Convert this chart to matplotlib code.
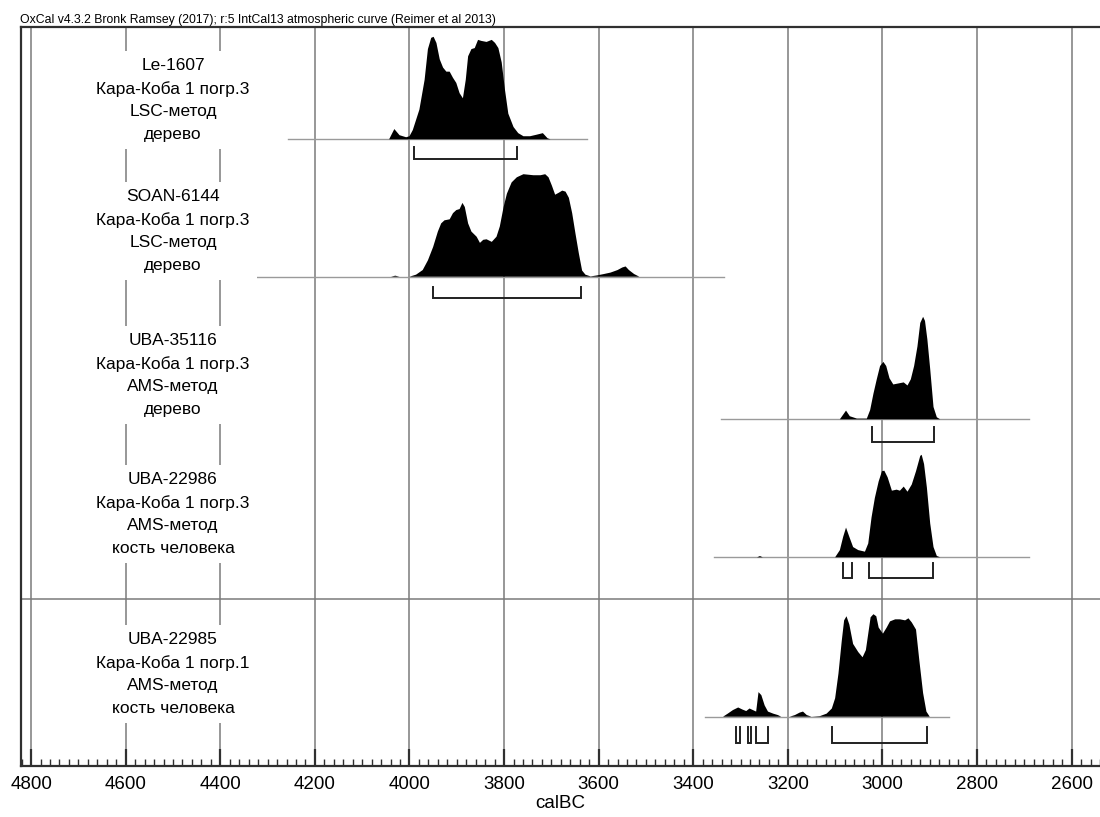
import matplotlib
matplotlib.use("Agg")
import matplotlib.pyplot as plt
import numpy as np

plt.rcParams['font.family'] = ['Liberation Sans', 'DejaVu Sans']

header = "OxCal v4.3.2 Bronk Ramsey (2017); r:5 IntCal13 atmospheric curve (Reimer et al 2013)"
xlabel = "calBC"
tick_years = [4800, 4600, 4400, 4200, 4000, 3800, 3600, 3400, 3200, 3000, 2800, 2600]

labels = [
    "Le-1607\nКара-Коба 1 погр.3\nLSC-метод\nдерево",
    "SOAN-6144\nКара-Коба 1 погр.3\nLSC-метод\nдерево",
    "UBA-35116\nКара-Коба 1 погр.3\nAMS-метод\nдерево",
    "UBA-22986\nКара-Коба 1 погр.3\nAMS-метод\nкость человека",
    "UBA-22985\nКара-Коба 1 погр.1\nAMS-метод\nкость человека",
]

# probability distributions (calBC years, relative density)
yrs1 = [4043, 4032, 4021, 4007, 4000, 3993, 3979, 3968, 3961, 3954, 3949, 3943, 3936, 3929, 3922,
        3915, 3908, 3901, 3894, 3887, 3881, 3876, 3869, 3862, 3855, 3848, 3837, 3826, 3819, 3812,
        3805, 3798, 3791, 3780, 3770, 3759, 3745, 3731, 3718, 3708, 3702]
den1 = [0, 0.10, 0.04, 0.02, 0.03, 0.09, 0.29, 0.58, 0.88, 0.99, 1.0, 0.94, 0.78, 0.70, 0.66,
        0.66, 0.60, 0.55, 0.45, 0.40, 0.58, 0.81, 0.88, 0.89, 0.97, 0.96, 0.95, 0.97, 0.94, 0.89,
        0.75, 0.48, 0.25, 0.12, 0.06, 0.03, 0.03, 0.045, 0.06, 0.01, 0]

yrs2 = [4039, 4030, 4021, 4000, 3986, 3972, 3961, 3950, 3940, 3933, 3926, 3915, 3908, 3901, 3894,
        3888, 3883, 3876, 3869, 3858, 3851, 3844, 3837, 3826, 3816, 3809, 3801, 3794, 3784, 3773,
        3759, 3738, 3723, 3713, 3706, 3699, 3692, 3684, 3677, 3670, 3663, 3656, 3649, 3642, 3635,
        3628, 3617, 3603, 3589, 3575, 3560, 3550, 3543, 3536, 3525, 3514]
den2 = [0, 0.01, 0, 0, 0.02, 0.065, 0.16, 0.29, 0.44, 0.52, 0.55, 0.56, 0.62, 0.65, 0.66,
        0.72, 0.68, 0.52, 0.44, 0.39, 0.33, 0.36, 0.365, 0.34, 0.39, 0.49, 0.68, 0.81, 0.92, 0.97,
        1.0, 0.99, 0.99, 1.0, 0.97, 0.89, 0.80, 0.82, 0.84, 0.83, 0.77, 0.62, 0.42, 0.23, 0.06,
        0.02, 0.003, 0.013, 0.026, 0.04, 0.065, 0.09, 0.10, 0.065, 0.026, 0]

yrs3 = [3090, 3077, 3069, 3054, 3033, 3026, 3019, 3012, 3005, 2998, 2992, 2985, 2977, 2966, 2955,
        2947, 2940, 2933, 2926, 2920, 2914, 2910, 2905, 2899, 2892, 2885, 2878]
den3 = [0, 0.085, 0.03, 0.007, 0.007, 0.09, 0.25, 0.39, 0.52, 0.56, 0.52, 0.40, 0.34, 0.35, 0.36,
        0.33, 0.39, 0.52, 0.71, 0.94, 1.0, 0.96, 0.78, 0.49, 0.12, 0.02, 0]

yrs4 = [3265, 3259, 3253, 3100, 3090, 3083, 3077, 3070, 3062, 3051, 3037, 3030, 3023, 3016, 3008,
        3001, 2996, 2989, 2980, 2970, 2963, 2955, 2947, 2938, 2929, 2920, 2917, 2912, 2906, 2899,
        2892, 2885, 2878]
den4 = [0, 0.012, 0, 0, 0.07, 0.2, 0.29, 0.2, 0.1, 0.07, 0.055, 0.135, 0.39, 0.58, 0.74,
        0.84, 0.845, 0.78, 0.65, 0.66, 0.65, 0.69, 0.64, 0.71, 0.84, 0.99, 1.0, 0.91, 0.68, 0.33,
        0.10, 0.013, 0]

yrs5 = [3337, 3327, 3316, 3305, 3296, 3288, 3281, 3274, 3267, 3262, 3256, 3249, 3242, 3231, 3221,
        3214, 3196, 3185, 3175, 3168, 3160, 3150, 3132, 3118, 3107, 3100, 3093, 3086, 3081, 3076,
        3070, 3062, 3051, 3042, 3035, 3030, 3025, 3019, 3013, 3008, 2999, 2991, 2984, 2973, 2963,
        2952, 2945, 2938, 2929, 2922, 2914, 2907, 2900]
den5 = [0, 0.03, 0.065, 0.09, 0.07, 0.055, 0.08, 0.065, 0.05, 0.24, 0.21, 0.11, 0.05, 0.03, 0.016,
        0, 0, 0.016, 0.04, 0.05, 0.016, 0, 0.006, 0.03, 0.08, 0.18, 0.42, 0.74, 0.94, 0.98,
        0.9, 0.71, 0.63, 0.58, 0.65, 0.81, 0.97, 1.0, 0.98, 0.87, 0.81, 0.87, 0.93, 0.95, 0.95,
        0.94, 0.96, 0.92, 0.85, 0.55, 0.23, 0.05, 0]

# extents of the thin baseline of each distribution
spans = [(4256, 3625), (4333, 3334), (3341, 2690), (3357, 2690), (3376, 2860)]

# 95.4% ranges
ranges = [
    [(3991, 3773)],
    [(3950, 3637)],
    [(3023, 2890)],
    [(3084, 3065), (3028, 2894)],
    [(3310, 3302), (3284, 3278), (3267, 3241), (3106, 2905)],
]

years_list = [yrs1, yrs2, yrs3, yrs4, yrs5]
dens_list = [den1, den2, den3, den4, den5]

# ---- layout (pixel-like vertical units, top = 0) ----
baselines = [139.3, 276.7, 419.3, 557.3, 716.7]
label_y = [100, 231, 375, 514, 674]
bracket_off = [(7.5, 20), (10, 21.5), (8, 22.5), (6, 21), (10, 26.5)]
peak_h = 102.5
sep_y = 599

W, H = 1100, 817
fig = plt.figure(figsize=(W / 100, H / 100), dpi=100)
ax = fig.add_axes([20.7 / W, (H - 766) / H, 1 - 20.7 / W, (766 - 26.7) / H])
ax.set_xlim(4822, 2540)
ax.set_ylim(766, 26.7)

grid_c = '#7a7a7a'
for t in tick_years:
    ax.axvline(t, color=grid_c, lw=1.1, zorder=1)
ax.axhline(sep_y, color=grid_c, lw=1.1, zorder=1)

for i in range(5):
    b = baselines[i]
    yr = np.array(years_list[i], dtype=float)
    d = np.array(dens_list[i], dtype=float)
    ax.plot(spans[i], [b, b], color='#9a9a9a', lw=1.0, zorder=2)
    ax.fill_between(yr, b, b - d * peak_h, facecolor='black', edgecolor='none', lw=0, zorder=3)
    o0, o1 = bracket_off[i]
    for (a, e) in ranges[i]:
        ax.plot([a, a, e, e], [b + o0, b + o1, b + o1, b + o0], color='#202020', lw=1.4,
                solid_joinstyle='miter', zorder=3)
    ax.text(4500, label_y[i], labels[i], ha='center', va='center', fontsize=12.5,
            linespacing=1.63, zorder=4,
            bbox=dict(boxstyle='square,pad=0.4', fc='white', ec='none'))

ax.set_xticks(tick_years)
ax.set_xticklabels([str(t) for t in tick_years])
ax.set_xticks(np.arange(4820, 2539, -20), minor=True)
ax.set_yticks([])
ax.tick_params(axis='x', which='major', direction='in', length=12, width=1.6, color='#303030',
               labelsize=13.5, pad=7)
ax.tick_params(axis='x', which='minor', direction='in', length=5, width=1.0, color='#303030')
for s in ['left', 'bottom', 'top']:
    ax.spines[s].set_linewidth(1.6)
    ax.spines[s].set_color('#303030')
ax.spines['right'].set_visible(False)
ax.set_xlabel(xlabel, fontsize=13.5, labelpad=2)

fig.text(20 / W, 1 - 20.5 / H, header, fontsize=8.8, ha='left', va='center')

fig.savefig('out.png', dpi=100)
